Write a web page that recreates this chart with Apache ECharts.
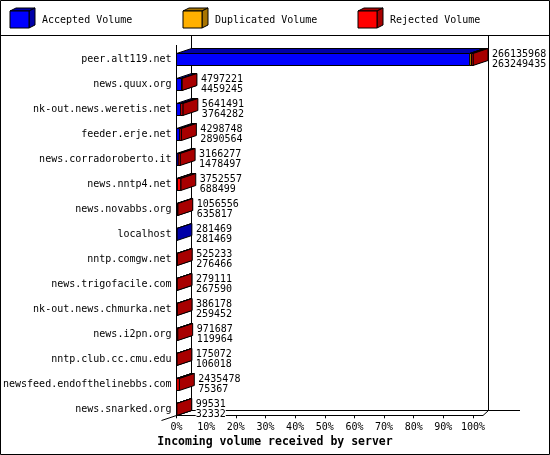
<!DOCTYPE html>
<html><head><meta charset="utf-8">
<script src="https://cdn.jsdelivr.net/npm/echarts@6/dist/echarts.min.js"></script>
<style>html,body{margin:0;padding:0;background:#fff}#c{width:550px;height:455px}</style>
</head><body><div id="c"></div>
<script>
const servers = ['peer.alt119.net','news.quux.org','nk-out.news.weretis.net','feeder.erje.net',
  'news.corradoroberto.it','news.nntp4.net','news.novabbs.org','localhost','nntp.comgw.net',
  'news.trigofacile.com','nk-out.news.chmurka.net','news.i2pn.org','nntp.club.cc.cmu.edu',
  'newsfeed.endofthelinebbs.com','news.snarked.org'];
const totalVolume = [266135968,4797221,5641491,4298748,3166277,3752557,1056556,281469,525233,
  279111,386178,971687,175072,2435478,99531];
const acceptedVolume = [263249435,4459245,3764282,2890564,1478497,688499,635817,281469,276466,
  267590,259452,119964,106018,75367,32332];
const duplicatedVolume = [1500000,0,0,0,0,0,0,0,0,0,0,0,0,0,0];
const seriesNames = ['Accepted Volume','Duplicated Volume','Rejected Volume'];
const percentTicks = [0,10,20,30,40,50,60,70,80,90,100];

const FONT = '"DejaVu Sans Mono", monospace';
const DX = 15, DY = 5;
const faces = [
  {front:'#0000ff', dark:'#0000a8'},
  {front:'#ffb000', dark:'#a87400'},
  {front:'#ff0000', dark:'#a80000'}
];
const maxTotal = Math.max(...totalVolume);
const rows = servers.map((s, i) => {
  const acc = acceptedVolume[i], dup = duplicatedVolume[i];
  const rej = totalVolume[i] - acc - dup;
  return [i, acc / maxTotal * 100, dup / maxTotal * 100, rej / maxTotal * 100, totalVolume[i], acc];
});

function box(x0, x1, yT, yB, c) {
  const st = (f) => ({fill: f, stroke: '#000', lineWidth: 1});
  return [
    {type:'polygon', shape:{points:[[x0,yT],[x0+DX,yT-DY],[x1+DX,yT-DY],[x1,yT]]}, style: st(c.dark)},
    {type:'polygon', shape:{points:[[x1,yT],[x1+DX,yT-DY],[x1+DX,yB-DY],[x1,yB]]}, style: st(c.dark)},
    {type:'rect', shape:{x:x0, y:yT, width:Math.max(x1-x0,0), height:yB-yT}, style: st(c.front)}
  ];
}

function renderItem(params, api) {
  const i = api.value(0);
  const yc = api.coord([0, i])[1];
  const h = 12;
  const yT = Math.round(yc - h/2) + 0.5, yB = yT + h;
  const children = [];
  let cum = 0;
  for (let k = 0; k < 3; k++) {
    const v = api.value(1 + k);
    if (!(v > 0)) continue;
    const x0 = api.coord([cum, i])[0];
    cum += v;
    const x1 = api.coord([cum, i])[0];
    children.push(...box(x0, x1, yT, yB, faces[k]));
  }
  const xe = api.coord([cum, i])[0];
  children.push({type:'text', x: xe + DX + 4, y: yc,
    style:{text: api.value(4) + '\n' + api.value(5), fill:'#000', font:'10px ' + FONT,
      align:'left', verticalAlign:'middle', lineHeight:10, backgroundColor:'#fff'}});
  return {type:'group', children};
}

function line(x1,y1,x2,y2){return {type:'line', z:0, shape:{x1,y1,x2,y2}, style:{stroke:'#000', lineWidth:1}};}
function legendCube(x, c, label) {
  const y = 11, w = 19, h = 17, dx = 6, dy = 3;
  const st = (f) => ({fill: f, stroke: '#000', lineWidth: 1});
  return [
    {type:'polygon', z:5, shape:{points:[[x,y],[x+dx,y-dy],[x+w+dx,y-dy],[x+w,y]]}, style: st(c.dark)},
    {type:'polygon', z:5, shape:{points:[[x+w,y],[x+w+dx,y-dy],[x+w+dx,y+h-dy],[x+w,y+h]]}, style: st(c.dark)},
    {type:'rect', z:5, shape:{x, y, width:w, height:h}, style: st(c.front)},
    {type:'text', z:5, x: x + 32, y: 20, style:{text: label, fill:'#000', font:'10px ' + FONT, align:'left', verticalAlign:'middle'}}
  ];
}

const chart = echarts.init(document.getElementById('c'), null, {renderer:'canvas'});
chart.setOption({
  animation: false,
  backgroundColor: '#fff',
  title: {text:'Incoming volume received by server', left:'center', top:436, padding:0,
    textStyle:{fontFamily: FONT, fontSize: 11.5, fontWeight:'bold', color:'#000'}},
  grid: {left: 176.5, right: 77, top: 59.3, bottom: 45.7, containLabel: false},
  xAxis: {type:'value', min: percentTicks[0], max: percentTicks[percentTicks.length-1], interval: 10,
    offset: 6,
    axisLine:{show:false}, splitLine:{show:false},
    axisTick:{show:true, length:3, lineStyle:{color:'#000'}},
    axisLabel:{formatter: v => percentTicks.includes(v) ? v + '%' : '', fontFamily: FONT, fontSize: 10, color:'#000', margin: 7}},
  yAxis: {type:'category', data: servers, inverse: true, boundaryGap: false,
    axisLine:{show:false}, axisTick:{show:false}, splitLine:{show:false},
    axisLabel:{fontFamily: FONT, fontSize: 10, color:'#000', margin: 5}},
  graphic: [
    {type:'rect', z:0, shape:{x:0.5, y:0.5, width:549, height:454}, style:{fill:'none', stroke:'#000', lineWidth:1}},
    line(0,35.5,550,35.5),
    line(191.5,36,191.5,410.5),
    line(488.5,36,488.5,410.5),
    line(191.5,410.5,520,410.5),
    line(176.5,45,176.5,415.5),
    line(176.5,415.5,483,415.5),
    line(483,415.5,488.5,410.5),
    line(161.5,420.5,176.5,415.5),
    line(176.5,415.5,191.5,410.5),
    ...legendCube(10, faces[0], seriesNames[0]),
    ...legendCube(183, faces[1], seriesNames[1]),
    ...legendCube(358, faces[2], seriesNames[2])
  ],
  series: [{
    type:'custom', name:'Incoming volume', z: 3, clip: false,
    renderItem, encode:{x:[1,2,3], y:0}, data: rows
  }]
});
</script></body></html>
